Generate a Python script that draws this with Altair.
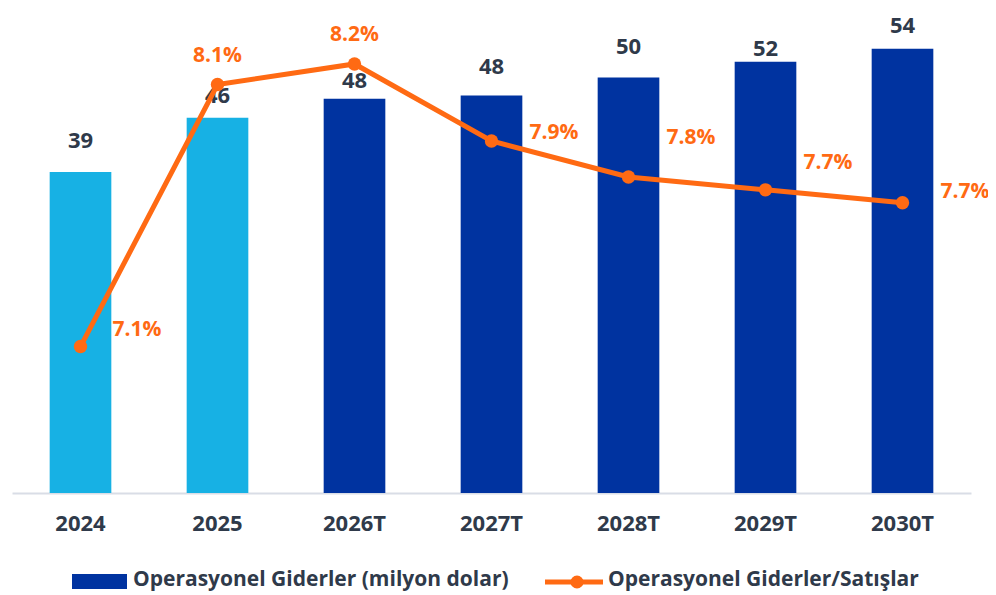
import altair as alt
import pandas as pd

years = ["2024", "2025", "2026T", "2027T", "2028T", "2029T", "2030T"]
opex = [39.0, 45.6, 47.9, 48.3, 50.5, 52.4, 54.0]
opex_labels = ["39", "46", "48", "48", "50", "52", "54"]
ratio = [7.1, 8.12, 8.2, 7.9, 7.76, 7.71, 7.66]
ratio_labels = ["7.1%", "8.1%", "8.2%", "7.9%", "7.8%", "7.7%", "7.7%"]
kind = ["Gerçekleşen", "Gerçekleşen", "Tahmin", "Tahmin", "Tahmin", "Tahmin", "Tahmin"]

legend_bar = "Operasyonel Giderler (milyon dolar)"
legend_line = "Operasyonel Giderler/Satışlar"

df = pd.DataFrame({
    "year": years, "opex": opex, "olabel": opex_labels, "ratio": ratio,
    "rlabel": ratio_labels, "kind": kind, "idx": list(range(len(years))),
})

FONT = "Open Sans"
TXT = "#2F3A4A"
ORANGE = "#FF6A13"
LBLUE = "#17B1E4"
DBLUE = "#0033A0"

# label placement (pixel offsets, as in the original layout)
BAR_LABEL_DY = [-31, -22, -18, -29, -30, -13, -23]
RATIO_LABEL_OFF = [(32, -17, "left"), (0, -29, "center"), (0, -29, "center"),
                   (38, -8, "left"), (38, -39, "left"), (38, -27, "left"),
                   (38, -11, "left")]

base = alt.Chart(df)
xs = alt.X("year:N", sort=years)
x = alt.X("year:N", sort=years, title=None,
          scale=alt.Scale(paddingInner=0.55, paddingOuter=0.275),
          axis=alt.Axis(labelAngle=0, labelFont=FONT, labelFontSize=22,
                        labelFontWeight="bold", labelColor=TXT, ticks=False,
                        labelPadding=20, domainColor="#D9DDE6", domainWidth=2))

ybar = alt.Y("opex:Q", scale=alt.Scale(domain=[0, 58.7]), axis=None)
bars = base.mark_bar().encode(
    x=x, y=ybar,
    color=alt.Color("kind:N", scale=alt.Scale(domain=["Gerçekleşen", "Tahmin"],
                                              range=[LBLUE, DBLUE]), legend=None),
)

bar_labels = [
    base.mark_text(font=FONT, fontSize=22, fontWeight="bold", color=TXT,
                   baseline="middle", dy=dy).encode(
        x=xs, y=ybar, text="olabel:N").transform_filter(f"datum.idx == {i}")
    for i, dy in enumerate(BAR_LABEL_DY)
]
bar_layer = alt.layer(bars, *bar_labels)

yr = alt.Y("ratio:Q", scale=alt.Scale(domain=[6.53, 8.41]), axis=None)
line = base.mark_line(color=ORANGE, strokeWidth=5).encode(x=xs, y=yr)
pts = base.mark_circle(color=ORANGE, size=180, opacity=1).encode(x=xs, y=yr)

ratio_lbls = [
    base.mark_text(font=FONT, fontSize=21, fontWeight="bold", color=ORANGE,
                   baseline="middle", align=al, dx=dx, dy=dy).encode(
        x=xs, y=yr, text="rlabel:N").transform_filter(f"datum.idx == {i}")
    for i, (dx, dy, al) in enumerate(RATIO_LABEL_OFF)
]
line_layer = alt.layer(line, pts, *ratio_lbls)

# manual legend
leg_df = pd.DataFrame({"a": [legend_bar], "b": [legend_line]})
leg = alt.Chart(leg_df)
leg_rect = leg.mark_rect(color=DBLUE).encode(
    x=alt.value(60), x2=alt.value(115), y=alt.value(564), y2=alt.value(579))
leg_t1 = leg.mark_text(font=FONT, fontSize=21, fontWeight="bold", color=TXT,
                       align="left", baseline="middle").encode(
    x=alt.value(121), y=alt.value(570), text="a:N")
leg_rule = leg.mark_rule(color=ORANGE, strokeWidth=5).encode(
    x=alt.value(533), x2=alt.value(591), y=alt.value(572))
leg_dot = leg.mark_circle(color=ORANGE, size=170, opacity=1).encode(
    x=alt.value(565), y=alt.value(572))
leg_t2 = leg.mark_text(font=FONT, fontSize=21, fontWeight="bold", color=TXT,
                       align="left", baseline="middle").encode(
    x=alt.value(596), y=alt.value(570), text="b:N")

chart = alt.layer(bar_layer, line_layer, leg_rect, leg_t1, leg_rule, leg_dot, leg_t2).resolve_scale(
    y="independent"
).properties(
    width=959, height=483,
    autosize=alt.AutoSizeParams(type="none"),
    padding={"left": 4, "top": 2, "right": 17, "bottom": 103},
).configure_view(stroke=None)

chart.save("out.html", embed_options={"renderer": "svg", "actions": False})
